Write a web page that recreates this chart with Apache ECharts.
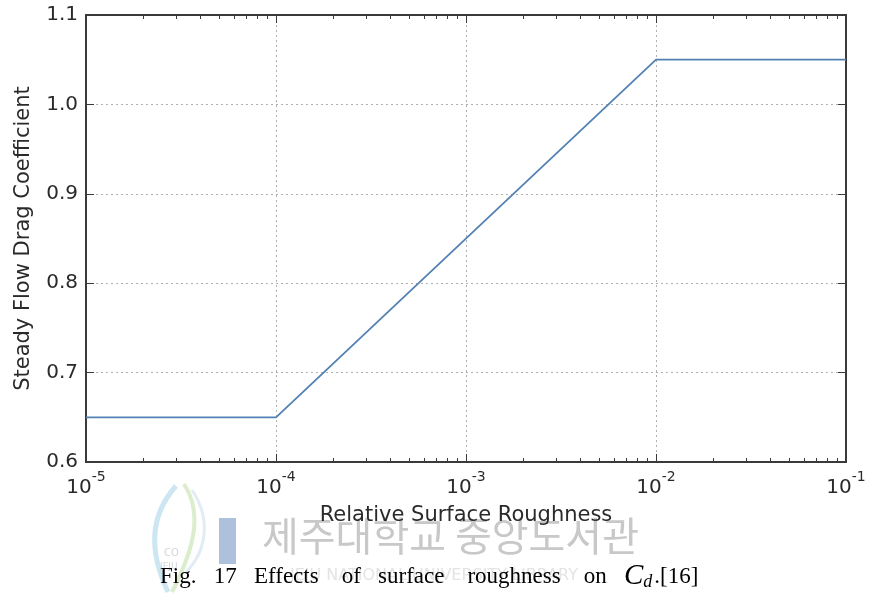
<!DOCTYPE html>
<html>
<head>
<meta charset="utf-8">
<script src="https://cdn.jsdelivr.net/npm/echarts@6/dist/echarts.min.js"></script>
<style>
  html, body { margin: 0; padding: 0; background: #fff; }
  #chart { width: 871px; height: 595px; }
</style>
</head>
<body>
<div id="chart"></div>
<script>
// Drag coefficient vs. relative surface roughness (log x axis)
const roughness = [1e-5, 1e-4, 1e-2, 1e-1];
const dragCoeff = [0.65, 0.65, 1.05, 1.05];

const xMajorTicks = [1e-5, 1e-4, 1e-3, 1e-2, 1e-1];
const yMajorTicks = [0.6, 0.7, 0.8, 0.9, 1.0, 1.1];

// minor ticks at 2..9 of every decade
const xMinorTicks = [];
for (let d = -5; d < -1; d++) {
  for (let m = 2; m <= 9; m++) xMinorTicks.push(m * Math.pow(10, d));
}

const axisColor = '#3a3a3a';
const textColor = '#2a2a2a';
const fontMain = 'DejaVu Sans';

function expLabel(v) {
  const e = Math.round(Math.log10(v));
  return '{b|10}{s|' + e + '}';
}

const labelRich = {
  b: { fontFamily: fontMain, fontSize: 20, color: textColor, padding: [8, 0, 0, 0] },
  s: { fontFamily: fontMain, fontSize: 14, color: textColor, verticalAlign: 'top', padding: [0, 0, 8, 0] }
};

function logAxis(pos, tickVals, len, showLabel, showGrid) {
  return {
    type: 'log', logBase: 10, min: 1e-5, max: 1e-1, position: pos,
    axisLine: { show: true, onZero: false, lineStyle: { color: axisColor, width: 2 } },
    axisTick: { show: true, inside: true, length: len, customValues: tickVals,
                lineStyle: { color: axisColor, width: 1 } },
    axisLabel: showLabel ? {
      show: true, customValues: xMajorTicks, formatter: expLabel, rich: labelRich, margin: 8
    } : { show: false },
    splitLine: showGrid ? { show: true, lineStyle: { color: '#b0b0b0', type: [2, 3], width: 1 } } : { show: false },
    minorTick: { show: false }, minorSplitLine: { show: false }
  };
}

function curve(x1, y1, cx1, cy1, cx2, cy2, x2, y2, color, w) {
  return { type: 'bezierCurve', silent: true,
    shape: { x1: x1, y1: y1, cpx1: cx1, cpy1: cy1, cpx2: cx2, cpy2: cy2, x2: x2, y2: y2 },
    style: { fill: null, stroke: color, lineWidth: w, opacity: 0.8 } };
}

const chart = echarts.init(document.getElementById('chart'), null, { renderer: 'canvas' });

const option = {
  backgroundColor: '#ffffff',
  animation: false,
  grid: { left: 86, right: 25, top: 15, bottom: 133, containLabel: false },
  xAxis: [
    Object.assign(logAxis('bottom', xMajorTicks, 8, true, true), {
      name: 'Relative Surface Roughness', nameLocation: 'middle', nameGap: 43,
      nameTextStyle: { fontFamily: fontMain, fontSize: 21, color: textColor }
    }),
    logAxis('bottom', xMinorTicks, 4, false, false),
    logAxis('top', xMajorTicks, 8, false, false),
    logAxis('top', xMinorTicks, 4, false, false)
  ],
  yAxis: [
    {
      type: 'value', min: 0.6, max: 1.1, interval: 0.1, position: 'left',
      name: 'Steady Flow Drag Coefficient', nameLocation: 'middle', nameGap: 52,
      nameTextStyle: { fontFamily: fontMain, fontSize: 21, color: textColor },
      axisLine: { show: true, lineStyle: { color: axisColor, width: 2 } },
      axisTick: { show: true, inside: true, length: 8, lineStyle: { color: axisColor } },
      axisLabel: { fontFamily: fontMain, fontSize: 20, color: textColor, margin: 8,
                   formatter: v => v.toFixed(1) },
      splitLine: { show: true, lineStyle: { color: '#b0b0b0', type: [2, 3], width: 1 } }
    },
    {
      type: 'value', min: 0.6, max: 1.1, interval: 0.1, position: 'right',
      axisLine: { show: true, lineStyle: { color: axisColor, width: 2 } },
      axisTick: { show: true, inside: true, length: 8, lineStyle: { color: axisColor } },
      axisLabel: { show: false }, splitLine: { show: false }
    }
  ],
  series: [{
    type: 'line',
    data: roughness.map((x, i) => [x, dragCoeff[i]]),
    xAxisIndex: 0, yAxisIndex: 0,
    showSymbol: false, symbol: 'none',
    lineStyle: { color: '#5381b3', width: 1.8 }
  }],
  graphic: [
    // library logo: swirl strokes and the J bar
    curve(176, 486, 150, 515, 148, 550, 168, 592, '#bfe0ef', 5),
    curve(184, 484, 202, 512, 196, 545, 172, 592, '#d2e8bf', 4),
    curve(192, 490, 212, 520, 206, 552, 186, 572, '#dbe7f2', 3),
    { type: 'rect', silent: true, shape: { x: 219, y: 518, width: 17, height: 46 },
      style: { fill: '#adc1dd' } },
    { type: 'text', silent: true, left: 164, top: 548,
      style: { text: 'CO', font: '10px DejaVu Sans', fill: '#d2d8de' } },
    { type: 'text', silent: true, left: 160, top: 562,
      style: { text: 'JEJU', font: '9px DejaVu Sans', fill: '#d2d8de' } },
    // watermark
    { type: 'text', silent: true, left: 262, top: 516,
      style: { text: '제주대학교 중앙도서관', font: '40px "Noto Sans CJK KR"', fill: '#c8c8c8' } },
    { type: 'text', silent: true, left: 290, top: 568,
      style: { text: 'JEJU NATIONAL UNIVERSITY LIBRARY', font: '16px "DejaVu Sans"', fill: '#e4e4e4' } },
    // caption
    { type: 'text', silent: true, left: 160, top: 562,
      style: {
        text: '{n|Fig.   17   Effects    of   surface    roughness    on   }{c|C}{d|d}{n|.[16]}',
        rich: {
          n: { fontFamily: 'Liberation Serif', fontSize: 23, color: '#111' },
          c: { fontFamily: 'Liberation Serif', fontStyle: 'italic', fontSize: 29, color: '#111' },
          d: { fontFamily: 'Liberation Serif', fontStyle: 'italic', fontSize: 18, color: '#111', verticalAlign: 'bottom', padding: [12, 2, 0, 0] }
        }
      } }
  ]
};

chart.setOption(option);
</script>
</body>
</html>
